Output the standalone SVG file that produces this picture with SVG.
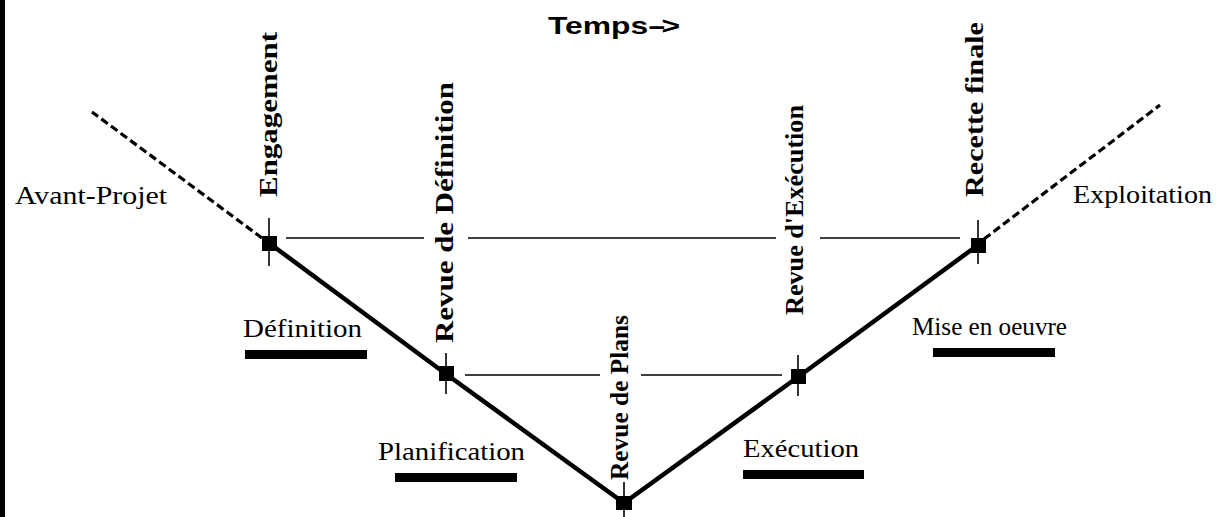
<svg xmlns="http://www.w3.org/2000/svg" width="1226" height="517" viewBox="0 0 1226 517">
<style>
.ms{font-family:"Liberation Serif","Times New Roman",serif;font-weight:bold;font-size:25px;fill:#000}
.ph{font-family:"Liberation Serif","Times New Roman",serif;font-size:26px;fill:#000}
.tick{stroke:#000;stroke-width:1.6}
.sq{fill:#000}
.bar{fill:#000}
.thick{stroke:#000;stroke-width:4.5;fill:none;stroke-linejoin:miter}
.dash{stroke:#000;stroke-width:3.2;stroke-dasharray:8 4;fill:none}
.thin{stroke:#000;stroke-width:1.5;fill:none}
</style>
<rect x="0" y="0" width="1226" height="517" fill="#fff"/>
<rect x="0" y="0" width="5" height="517" fill="#000"/>
<text x="548" y="34" font-family="'Liberation Sans',Arial,sans-serif" font-weight="bold" font-size="24" textLength="132" lengthAdjust="spacingAndGlyphs">Temps<tspan letter-spacing="-3">--</tspan>&gt;</text>

<g id="connectors">
  <polyline class="thick" points="269,243 446,374 624,503 798,377 978,245"/>
  <line class="dash" x1="262" y1="238" x2="92" y2="112"/>
  <line class="dash" x1="984" y1="239" x2="1160" y2="105"/>
  <line class="thin" x1="286" y1="238" x2="424" y2="238"/>
  <line class="thin" x1="468" y1="238" x2="776" y2="238"/>
  <line class="thin" x1="820" y1="238" x2="960" y2="238"/>
  <line class="thin" x1="465" y1="375" x2="600" y2="375"/>
  <line class="thin" x1="641" y1="375" x2="782" y2="375"/>
</g>

<g id="engagement">
  <line class="tick" x1="269" y1="218" x2="269" y2="266"/>
  <rect class="sq" x="262" y="236" width="15" height="15"/>
  <text class="ms" transform="translate(277,197) rotate(-90)" textLength="165" lengthAdjust="spacingAndGlyphs">Engagement</text>
</g>
<g id="revue-definition">
  <line class="tick" x1="446" y1="353" x2="446" y2="394"/>
  <rect class="sq" x="439" y="366" width="15" height="15"/>
  <text class="ms" transform="translate(453,343) rotate(-90)" textLength="261" lengthAdjust="spacingAndGlyphs">Revue de Définition</text>
</g>
<g id="revue-plans">
  <line class="tick" x1="624" y1="482" x2="624" y2="517"/>
  <rect class="sq" x="616" y="496" width="16" height="14"/>
  <text class="ms" transform="translate(628,480) rotate(-90)" textLength="165" lengthAdjust="spacingAndGlyphs">Revue de Plans</text>
</g>
<g id="revue-execution">
  <line class="tick" x1="798" y1="355" x2="798" y2="396"/>
  <rect class="sq" x="791" y="369" width="15" height="15"/>
  <text class="ms" transform="translate(803,315) rotate(-90)" textLength="210" lengthAdjust="spacingAndGlyphs">Revue d'Exécution</text>
</g>
<g id="recette-finale">
  <line class="tick" x1="978" y1="220" x2="978" y2="264"/>
  <rect class="sq" x="971" y="238" width="15" height="15"/>
  <text class="ms" transform="translate(983,197) rotate(-90)" textLength="175" lengthAdjust="spacingAndGlyphs">Recette finale</text>
</g>

<g id="avant-projet">
  <text class="ph" x="15" y="204" textLength="152" lengthAdjust="spacingAndGlyphs">Avant-Projet</text>
</g>
<g id="definition">
  <text class="ph" x="243" y="337" textLength="119" lengthAdjust="spacingAndGlyphs">Définition</text>
  <rect class="bar" x="245" y="350" width="122" height="9"/>
</g>
<g id="planification">
  <text class="ph" x="378" y="460" textLength="147" lengthAdjust="spacingAndGlyphs">Planification</text>
  <rect class="bar" x="395" y="473" width="122" height="9"/>
</g>
<g id="execution">
  <text class="ph" x="743" y="457" textLength="116" lengthAdjust="spacingAndGlyphs">Exécution</text>
  <rect class="bar" x="743" y="470" width="121" height="9"/>
</g>
<g id="mise-en-oeuvre">
  <text class="ph" x="912" y="335" textLength="155" lengthAdjust="spacingAndGlyphs">Mise en oeuvre</text>
  <rect class="bar" x="933" y="348" width="122" height="9"/>
</g>
<g id="exploitation">
  <text class="ph" x="1073" y="203" textLength="139" lengthAdjust="spacingAndGlyphs">Exploitation</text>
</g>
</svg>
